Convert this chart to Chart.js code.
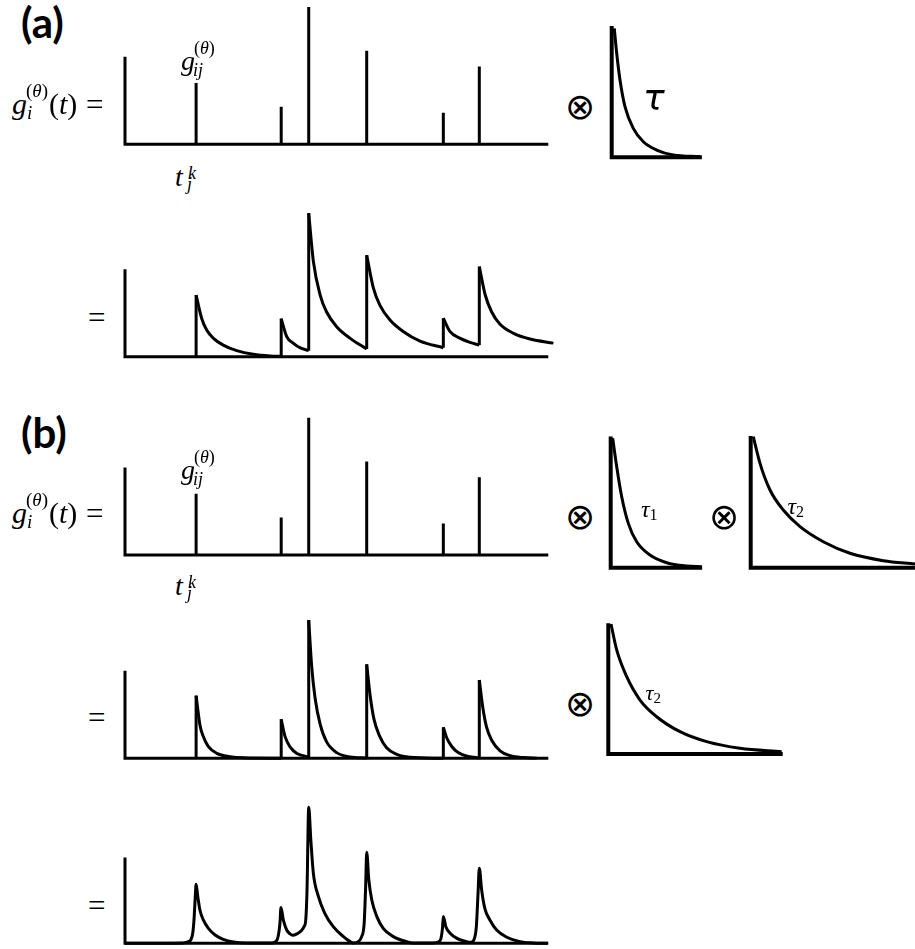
<!DOCTYPE html>
<html>
<head>
<meta charset="utf-8">
<script src="https://cdn.jsdelivr.net/npm/chart.js@4.4.1/dist/chart.umd.min.js"></script>
<style>
  html, body { margin: 0; padding: 0; background: #fff; }
  body { position: relative; width: 915px; height: 949px; overflow: hidden; }
  canvas { position: absolute; }
  .t { position: absolute; white-space: nowrap; color: #000; line-height: 1; }
  .t i { font-style: italic; }
</style>
</head>
<body>
<script>
// spike train (same for (a) and (b)), time in ms-ish units, amplitude in arbitrary units
const spikeTimes = [16.8, 36.9, 43.4, 57.1, 75.2, 83.7];
const spikeAmps = [7.0, 4.3, 15.7, 10.7, 3.6, 8.9];
const axisHeight = 10;
const axisLength = 100;

// (a) trace after convolving with tau : one decay per spike [t, g]
const traceTau = [
  [[16.8, 7.05], [18.1, 4.4], [19.3, 3.05], [20.9, 2.1], [23.2, 1.33], [26.4, 0.69], [30.3, 0.27], [34.3, 0.08], [36.9, 0.04]],
  [[36.9, 4.35], [38.2, 2.3], [39.8, 1.52], [41.3, 1.03], [43.4, 0.69]],
  [[43.4, 16.4], [44.5, 10.9], [46.1, 7.05], [47.6, 5.14], [50.0, 3.43], [53.2, 2.1], [57.1, 0.88]],
  [[57.1, 11.6], [58.7, 7.8], [60.2, 5.9], [62.6, 4.2], [65.8, 2.86], [69.7, 1.79], [75.2, 1.03]],
  [[75.2, 4.4], [76.8, 2.86], [79.2, 2.1], [81.5, 1.64], [83.7, 1.33]],
  [[83.7, 10.3], [85.1, 7.05], [86.6, 5.14], [88.6, 3.7], [91.8, 2.67], [95.7, 2.02], [101.2, 1.55]]
];

// (b) trace after convolving with tau1
const traceTau1 = [
  [[16.8, 7.16], [17.7, 3.81], [18.5, 2.48], [19.7, 1.33], [21.7, 0.57], [24.8, 0.19], [28.0, 0.05], [36.9, 0.0]],
  [[36.9, 4.46], [37.8, 2.5], [39.0, 1.3], [40.6, 0.55], [43.4, 0.15]],
  [[43.4, 15.8], [44.1, 10.5], [44.9, 6.9], [46.1, 3.9], [47.6, 1.9], [50.0, 0.65], [53.2, 0.15], [57.1, 0.03]],
  [[57.1, 10.74], [57.9, 7.2], [58.8, 4.5], [60.1, 2.6], [61.8, 1.2], [64.2, 0.45], [67.3, 0.12], [75.2, 0.0]],
  [[75.2, 3.54], [76.0, 2.35], [77.2, 1.35], [78.7, 0.65], [81.1, 0.2], [83.7, 0.06]],
  [[83.7, 8.95], [84.5, 5.9], [85.4, 3.6], [86.7, 2.0], [88.6, 0.85], [91.0, 0.3], [94.1, 0.08], [97.3, 0.02]]
];

// (b) trace after the second convolution with tau2
const traceTau12 = [
  [0, 0], [13.8, 0.04], [15.0, 0.19], [15.6, 0.46], [16.0, 1.14], [16.3, 2.67], [16.6, 5.33], [16.8, 6.74],
  [17.2, 5.33], [17.7, 3.81], [18.5, 2.67], [19.7, 1.71], [21.3, 0.95], [23.2, 0.46], [25.6, 0.15], [28.7, 0.04],
  [34.7, 0.04], [35.7, 0.23], [36.2, 0.84], [36.6, 2.29], [36.85, 4.08], [37.4, 2.67], [38.2, 1.52], [39.0, 1.07],
  [39.6, 0.91], [40.6, 1.07], [41.7, 1.45], [42.3, 1.9], [42.7, 2.67], [43.0, 6.1], [43.4, 15.54], [43.9, 11.81],
  [44.5, 8.0], [45.7, 5.33], [47.2, 3.43], [49.2, 1.9], [51.6, 0.76], [53.2, 0.19], [53.9, 0.04], [55.1, 0.19],
  [55.9, 0.76], [56.5, 2.29], [56.85, 6.48], [57.1, 10.4], [57.6, 7.24], [58.3, 4.95], [59.5, 3.05], [61.0, 1.71],
  [63.4, 0.76], [66.5, 0.19], [68.1, 0.04], [72.8, 0.04], [74.0, 0.15], [74.65, 0.57], [75.0, 1.71], [75.2, 3.05],
  [75.8, 1.9], [76.8, 1.14], [78.4, 0.57], [80.7, 0.19], [81.7, 0.11], [82.4, 0.38], [83.0, 1.9], [83.4, 5.71],
  [83.7, 8.57], [84.25, 6.1], [85.0, 4.0], [86.2, 2.67], [87.8, 1.52], [90.2, 0.69], [93.3, 0.19], [96.5, 0.04], [99.8, 0]
];

// kernels [t, g] and their axes [height, length]
const kernelTau = [[0.61, 14.74], [1.18, 11.89], [1.96, 8.83], [3.14, 5.78], [5.1, 3.31], [7.47, 1.78], [10.63, 0.83], [14.55, 0.26], [20.86, 0.07]];
const kernelTau1 = [[0.47, 14.79], [1.42, 11.54], [2.6, 8.11], [4.16, 5.07], [6.14, 2.97], [9.28, 1.45], [13.23, 0.57], [17.95, 0.19], [21.5, 0.11]];
const kernelTau2 = [[0.61, 14.97], [2.2, 11.93], [4.56, 8.88], [7.7, 6.59], [11.65, 4.69], [17.15, 2.97], [23.46, 1.65], [31.33, 0.8], [38.81, 0.42]];
const kernelTau2b = [[0.64, 14.86], [1.98, 11.89], [4.35, 8.83], [7.49, 6.17], [11.43, 4.26], [16.94, 2.55], [23.25, 1.41], [31.11, 0.65], [40.96, 0.26]];
const axisTau = [15.0, 21.3];
const axisTau1 = [15.0, 21.6];
const axisTau2 = [15.05, 38.8];
const axisTau2b = [14.94, 41.2];

// px per unit
const SX = 4.233;
const SY = 8.75;

const pts = arr => arr.map(p => ({ x: p[0], y: p[1] }));

function ink(data, extra) {
  return Object.assign({
    data: data,
    borderColor: '#000',
    borderWidth: 3,
    pointRadius: 0,
    fill: false,
    tension: 0,
    borderJoinStyle: 'miter',
    borderCapStyle: 'butt',
    spanGaps: false,
    clip: false
  }, extra || {});
}

function axisSet(h, len, width) {
  return ink([{ x: 0, y: h }, { x: 0, y: 0 }, { x: len, y: 0 }], { borderWidth: width || 3 });
}

function spikeSet() {
  const d = [];
  spikeTimes.forEach((t, i) => {
    d.push({ x: t, y: 0 }, { x: t, y: spikeAmps[i] }, { x: t, y: null });
  });
  return ink(d);
}

// decays drawn smooth, jumps at spike times drawn straight
function traceSets(segs) {
  const sets = [];
  let prevEnd = 0;
  segs.forEach(seg => {
    sets.push(ink([{ x: seg[0][0], y: prevEnd }, { x: seg[0][0], y: seg[0][1] }]));
    sets.push(ink(pts(seg), { cubicInterpolationMode: 'monotone' }));
    prevEnd = seg[seg.length - 1][1];
  });
  return sets;
}

// one chart per panel, placed so that (0,0) falls on (x0, y0) in page px
function panel(x0, y0, xMax, yMax, datasets) {
  const pad = 8;
  const w = xMax * SX, h = yMax * SY;
  const left = Math.floor(x0 - pad), top = Math.floor(y0 - h - pad);
  const width = Math.ceil(x0 + w + pad) - left;
  const height = Math.ceil(y0 + pad) - top;
  const padding = {
    left: x0 - left,
    top: (y0 - h) - top,
    right: width - (x0 - left) - w,
    bottom: height - ((y0 - h) - top) - h
  };
  const c = document.createElement('canvas');
  c.width = width;
  c.height = height;
  c.style.left = left + 'px';
  c.style.top = top + 'px';
  document.body.appendChild(c);
  return new Chart(c.getContext('2d'), {
    type: 'line',
    data: { datasets: datasets },
    options: {
      responsive: false,
      animation: false,
      events: [],
      layout: { padding: padding },
      plugins: { legend: { display: false }, tooltip: { enabled: false } },
      scales: {
        x: { type: 'linear', min: 0, max: xMax, display: false },
        y: { type: 'linear', min: 0, max: yMax, display: false }
      }
    }
  });
}

// (a)
panel(125, 144.3, 101, 16.2, [axisSet(axisHeight, axisLength), spikeSet()]);
panel(611.7, 157.3, 21.6, 15.4, [axisSet(axisTau[0], axisTau[1], 4), ink(pts(kernelTau), { cubicInterpolationMode: 'monotone' })]);
panel(125, 356.7, 102, 17, [axisSet(axisHeight, axisLength)].concat(traceSets(traceTau)));

// (b)
panel(125, 555, 101, 16.2, [axisSet(axisHeight, axisLength), spikeSet()]);
panel(610.7, 567.7, 22, 15.4, [axisSet(axisTau1[0], axisTau1[1], 4), ink(pts(kernelTau1), { cubicInterpolationMode: 'monotone' })]);
panel(750.7, 567.7, 39.2, 15.4, [axisSet(axisTau2[0], axisTau2[1], 4), ink(pts(kernelTau2), { cubicInterpolationMode: 'monotone' })]);
panel(125, 758.3, 101, 17, [axisSet(axisHeight, axisLength)].concat(traceSets(traceTau1)));
panel(608.3, 754, 41.6, 15.3, [axisSet(axisTau2b[0], axisTau2b[1], 4), ink(pts(kernelTau2b), { cubicInterpolationMode: 'monotone' })]);
panel(125, 943.3, 101, 17, [axisSet(axisHeight * 0.98, axisLength), ink(pts(traceTau12), { cubicInterpolationMode: 'monotone' })]);

// text, placed by baseline
const serif = '"Liberation Serif", serif';
function put(html, x, base, size, family, style, weight) {
  const d = document.createElement('div');
  d.className = 't';
  d.style.fontFamily = family;
  d.style.fontSize = size + 'px';
  d.style.fontStyle = style || 'normal';
  d.style.fontWeight = weight || 'normal';
  d.style.left = x + 'px';
  d.style.top = '0px';
  d.innerHTML = html;
  const probe = document.createElement('span');
  probe.style.display = 'inline-block';
  probe.style.width = '0px';
  probe.style.height = '0px';
  d.appendChild(probe);
  document.body.appendChild(d);
  const off = probe.getBoundingClientRect().top - d.getBoundingClientRect().top;
  d.style.top = (base - off) + 'px';
}

put('(a)', 21, 38, 42, 'Lato, sans-serif', 'normal', 'bold');
put('(b)', 21, 447.5, 42, 'Lato, sans-serif', 'normal', 'bold');

[0, 409].forEach(dy => {
  put('g', 12, 114 + dy, 30, serif, 'italic');
  put('(<i>θ</i>)', 26, 97 + dy, 19, serif);
  put('i', 27, 119 + dy, 19, serif, 'italic');
  put('(<i>t</i>)', 49, 114 + dy, 30, serif);
  put('=', 86, 114.5 + dy, 31, serif);

  put('g', 181, 70 + dy, 28, serif, 'italic');
  put('(<i>θ</i>)', 194, 54 + dy, 18, serif);
  put('ij', 193, 76 + dy, 18, serif, 'italic');

  put('t', 175, 186 + dy, 28, serif, 'italic');
  put('k', 188, 179 + dy, 18, serif, 'italic');
  put('j', 187, 190 + dy, 18, serif, 'italic');
});

put('=', 88, 328, 31, serif);
put('=', 88, 728, 31, serif);
put('=', 88, 915.5, 31, serif);

put('⊗', 565, 119, 36, '"DejaVu Sans", sans-serif');
put('⊗', 565, 529, 36, '"DejaVu Sans", sans-serif');
put('⊗', 709, 529, 36, '"DejaVu Sans", sans-serif');
put('⊗', 565, 716, 36, '"DejaVu Sans", sans-serif');

put('τ', 643, 109.5, 36, '"DejaVu Sans", sans-serif', 'italic');
put('<i>τ</i><span style="font-size:16px;position:relative;top:3px">1</span>', 641, 517, 24, serif);
put('<i>τ</i><span style="font-size:16px;position:relative;top:3px">2</span>', 787.5, 513.5, 24, serif);
put('<i>τ</i><span style="font-size:15px;position:relative;top:3px">2</span>', 645.5, 700, 22, serif);
</script>
</body>
</html>
